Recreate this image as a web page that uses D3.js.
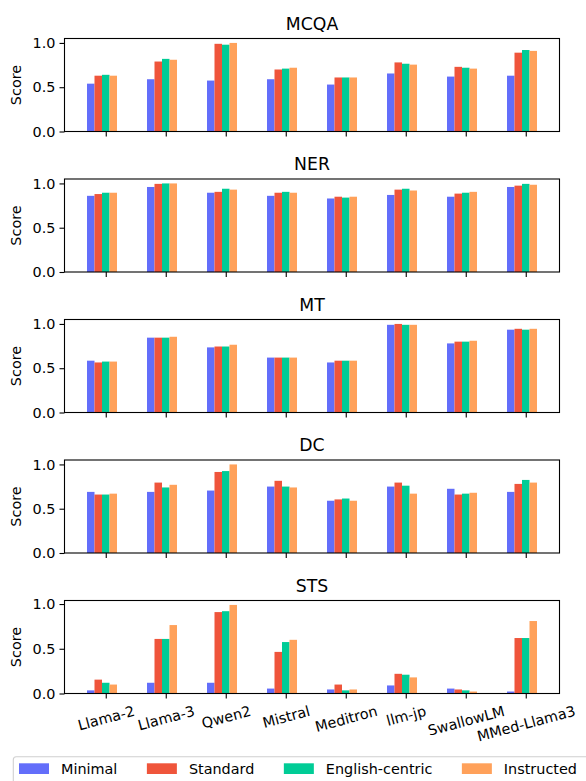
<!DOCTYPE html>
<meta charset="utf-8">
<style>
body { margin: 0; background: #fff; }
text { font-family: "DejaVu Sans", sans-serif; fill: #000; }
.tick text { font-size: 14.4px; }
.tick line, .domain { stroke: #000; stroke-width: 1.1px; }
</style>
<svg width="586" height="781"></svg>
<script src="https://d3js.org/d3.v7.min.js"></script>
<script>

var models = ["Llama-2", "Llama-3", "Qwen2", "Mistral", "Meditron", "llm-jp", "SwallowLM", "MMed-Llama3"];
var variants = ["Minimal", "Standard", "English-centric", "Instructed"];
var colors = ["#636EFA", "#EF553B", "#00CC96", "#FFA15A"];
var taskNames = ["MCQA", "NER", "MT", "DC", "STS"];

// one row per model: Minimal, Standard, English-centric, Instructed
var mcqa = [[0.54, 0.63, 0.64, 0.63], [0.59, 0.79, 0.82, 0.81], [0.575, 0.99, 0.98, 1.0], [0.59, 0.70, 0.71, 0.72],
            [0.53, 0.61, 0.61, 0.61], [0.655, 0.78, 0.765, 0.755], [0.62, 0.73, 0.72, 0.71], [0.63, 0.89, 0.92, 0.91]];
var ner  = [[0.86, 0.88, 0.895, 0.895], [0.96, 0.995, 1.0, 1.0], [0.895, 0.905, 0.94, 0.93], [0.86, 0.895, 0.905, 0.895],
            [0.83, 0.85, 0.84, 0.85], [0.87, 0.93, 0.94, 0.92], [0.85, 0.885, 0.895, 0.905], [0.96, 0.975, 0.995, 0.985]];
var mt   = [[0.585, 0.565, 0.575, 0.575], [0.845, 0.845, 0.845, 0.855], [0.735, 0.745, 0.745, 0.765], [0.62, 0.62, 0.62, 0.62],
            [0.565, 0.585, 0.585, 0.585], [0.99, 1.0, 0.99, 0.99], [0.78, 0.80, 0.80, 0.81], [0.935, 0.945, 0.935, 0.945]];
var dc   = [[0.69, 0.66, 0.66, 0.67], [0.69, 0.795, 0.74, 0.77], [0.705, 0.915, 0.925, 1.0], [0.75, 0.815, 0.75, 0.74],
            [0.59, 0.605, 0.615, 0.59], [0.75, 0.795, 0.76, 0.67], [0.725, 0.66, 0.67, 0.68], [0.69, 0.78, 0.825, 0.795]];
var sts  = [[0.035, 0.155, 0.12, 0.10], [0.12, 0.61, 0.61, 0.765], [0.12, 0.91, 0.92, 0.99], [0.055, 0.465, 0.575, 0.60],
            [0.045, 0.10, 0.035, 0.045], [0.09, 0.22, 0.21, 0.18], [0.055, 0.045, 0.035, 0.022], [0.022, 0.62, 0.62, 0.81]];
var tasks = [mcqa, ner, mt, dc, sts];

var svg = d3.select("svg"),
    left = 64.5, right = 559.5,
    top0 = 38.5, pitch = 140.5, h = 93,
    barW = 0.125;

var x = d3.scaleLinear().domain([-0.6875, 7.5625]).range([left, right]);

tasks.forEach(function(rows, t) {
  var g = svg.append("g").attr("transform", "translate(0," + (top0 + t * pitch) + ")");
  var ymax = d3.max(rows, function(r) { return d3.max(r); }) * 1.05;
  var y = d3.scaleLinear().domain([0, ymax]).range([h, 0]);

  rows.forEach(function(r, i) {
    g.selectAll(null)
      .data(r)
      .enter().append("rect")
        .attr("x", function(d, j) { return x(i + (j - 2) * barW - barW / 2); })
        .attr("width", x(barW) - x(0))
        .attr("y", function(d) { return y(d); })
        .attr("height", function(d) { return h - y(d); })
        .attr("fill", function(d, j) { return colors[j]; });
  });

  g.append("g")
      .attr("transform", "translate(" + left + ",0)")
      .call(d3.axisLeft(y).tickValues([0, 0.5, 1]).tickFormat(d3.format(".1f")).tickSize(5).tickPadding(4))
      .call(function(a) { a.select(".domain").remove(); });

  var xa = g.append("g")
      .attr("transform", "translate(0," + h + ")")
      .call(d3.axisBottom(x).tickValues(d3.range(models.length)).tickSize(5).tickFormat(function(d) { return t === 4 ? models[d] : ""; }))
      .call(function(a) { a.select(".domain").remove(); });

  if (t === 4) {
    xa.selectAll(".tick text").each(function() {
      var el = d3.select(this),
          w = this.getComputedTextLength(),
          cy = 9 + (w * Math.sin(Math.PI / 12) + 16.8 * Math.cos(Math.PI / 12)) / 2;
      el.attr("y", null).attr("dy", null)
        .attr("dominant-baseline", "central")
        .attr("transform", "translate(0," + cy + ") rotate(-15)");
    });
  }

  g.append("rect")
      .attr("x", left).attr("y", 0)
      .attr("width", right - left).attr("height", h)
      .attr("fill", "none").attr("stroke", "#000").attr("stroke-width", 1.1);

  g.append("text")
      .attr("x", (left + right) / 2).attr("y", -9)
      .attr("text-anchor", "middle")
      .style("font-size", "17.3px")
      .text(taskNames[t]);

  g.append("text")
      .attr("transform", "translate(21," + h / 2 + ") rotate(-90)")
      .attr("text-anchor", "middle")
      .style("font-size", "14.4px")
      .text("Score");
});

// legend
var lg = svg.append("g");
var box = lg.append("rect")
    .attr("x", 13.3).attr("y", 756.7)
    .attr("rx", 3).attr("ry", 3)
    .attr("height", 40)
    .attr("fill", "#fff").attr("fill-opacity", 0.8)
    .attr("stroke", "#d0d0d0").attr("stroke-width", 1.1);

var lx = 19;
variants.forEach(function(v, j) {
  lg.append("rect")
      .attr("x", lx).attr("y", 763.3)
      .attr("width", 30).attr("height", 10.7)
      .attr("fill", colors[j]);
  var tx = lg.append("text")
      .attr("x", lx + 42).attr("y", 774)
      .style("font-size", "14.4px")
      .text(v);
  lx = lx + 42 + tx.node().getComputedTextLength() + 29.5;
});
box.attr("width", lx - 13.3);

</script>
